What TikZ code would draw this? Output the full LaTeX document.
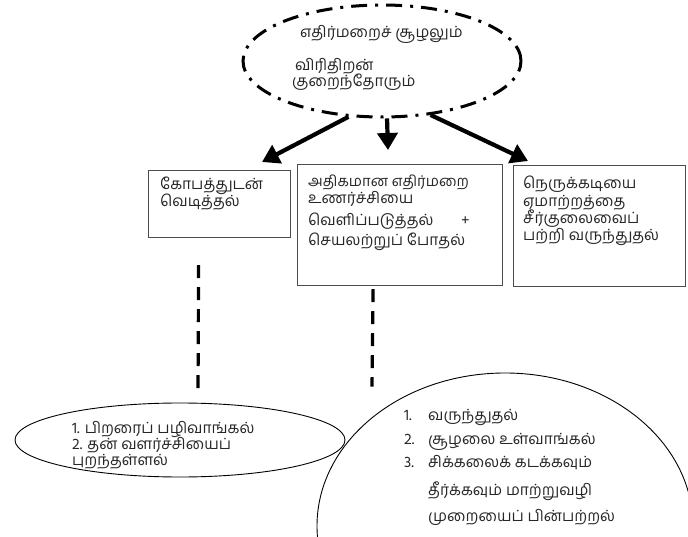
\documentclass[tikz,border=0pt]{standalone}
\usepackage{fontspec}
\newfontfamily\tamil[Script=Tamil]{Hind Madurai}
\usetikzlibrary{shapes.geometric,arrows.meta,calc}
\begin{document}
\begin{tikzpicture}[x=1pt,y=-1pt,
  txt/.style={anchor=base west,inner sep=0pt,font=\tamil\fontsize{15.5}{17}\selectfont,text=black!85},
  smalltxt/.style={txt,font=\tamil\fontsize{14.8}{17}\selectfont},
  boxst/.style={draw=black!70,line width=1.2pt,inner sep=0pt,anchor=north west},
  topell/.style={ellipse,draw=black,line width=3pt,inner sep=0pt,
     dash pattern=on 16pt off 8pt on 3pt off 8pt},
  thinell/.style={ellipse,draw=black,line width=0.9pt,inner sep=0pt},
  bigarrow/.style={line width=4.2pt,-{Triangle[length=17pt,width=20pt]}},
  dashline/.style={line width=3.2pt,dash pattern=on 13pt off 9pt}
]
\useasboundingbox (0,0) rectangle (688,537);
\clip (0,0) rectangle (688,537);
\fill[white] (0,0) rectangle (688,537);

% top ellipse
\node[topell,minimum width=278pt,minimum height=112pt] (top) at (382,61) {};
\node[txt] (t1) at (300,38) {எதிர்மறைச் சூழலும்};
\node[txt] (t2) at (295,71) {விரிதிறன்};
\node[txt] (t3) at (292,87) {குறைந்தோரும்};

% boxes
\node[boxst,minimum width=142pt,minimum height=67pt] (b1) at (148,170) {};
\node[boxst,minimum width=205pt,minimum height=121pt] (b2) at (297,164) {};
\node[boxst,minimum width=172pt,minimum height=121pt] (b3) at (513,165) {};

\node[txt] (b1a) at (160,190) {கோபத்துடன்};
\node[txt] (b1b) at (160,207) {வெடித்தல்};

\node[smalltxt] (b2a) at (308,187) {அதிகமான எதிர்மறை};
\node[txt] (b2b) at (308,204) {உணர்ச்சியை};
\node[txt] (b2c) at (308,226) {வெளிப்படுத்தல்};
\node[txt] (b2p) at (461,226) {+};
\node[txt] (b2d) at (308,246) {செயலற்றுப் போதல்};

\node[txt] (b3a) at (523,189) {நெருக்கடியை};
\node[txt] (b3b) at (523,207) {ஏமாற்றத்தை};
\node[txt] (b3c) at (523,224) {சீர்குலைவைப்};
\node[txt] (b3d) at (523,241) {பற்றி வருந்துதல்};

% arrows
\coordinate (tipL) at (262,162);
\coordinate (tipC) at (388,150);
\coordinate (tipR) at (528,161);
\draw[bigarrow] (top.239) -- (tipL);
\draw[bigarrow] (top.275) -- (tipC);
\draw[bigarrow] (top.312) -- (tipR);

% bottom ellipses
\node[thinell,minimum width=330pt,minimum height=74pt] (e1) at (180,440) {};
\node[thinell,minimum width=376pt,minimum height=306pt] (e2) at (505,526) {};

\node[txt] (e1a) at (72,433) {1. பிறரைப் பழிவாங்கல்};
\node[txt] (e1b) at (72,449) {2. தன் வளர்ச்சியைப்};
\node[txt] (e1c) at (72,465) {புறந்தள்ளல்};

\node[txt] (n1) at (404,420) {1.};
\node[txt] (n2) at (404,444) {2.};
\node[txt] (n3) at (404,467) {3.};
\node[txt] (e2a) at (428,420) {வருந்துதல்};
\node[txt] (e2b) at (428,444) {சூழலை உள்வாங்கல்};
\node[txt] (e2c) at (428,467) {சிக்கலைக் கடக்கவும்};
\node[txt] (e2d) at (428,495) {தீர்க்கவும் மாற்றுவழி};
\node[txt] (e2e) at (428,521) {முறையைப் பின்பற்றல்};

% dashed connectors
\draw[dashline] ($(b1.south)+(-21,27)$) -- ($(e1.north)+(18,-6)$);
\draw[dashline] ($(b2.south)+(-27,3)$) -- ($(e2.north)+(-133,14)$);
\end{tikzpicture}
\end{document}
